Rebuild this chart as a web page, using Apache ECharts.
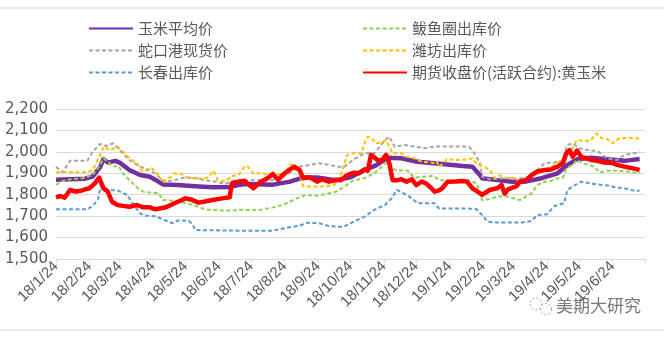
<!DOCTYPE html>
<html><head><meta charset="utf-8">
<script src="https://cdn.jsdelivr.net/npm/echarts@6/dist/echarts.min.js"></script>
<style>html,body{margin:0;padding:0;background:#fff}#c{width:664px;height:339px}</style>
</head><body><div id="c"></div>
<script>
const seriesNames = ['玉米平均价','鲅鱼圈出库价','蛇口港现货价','潍坊出库价','长春出库价','期货收盘价(活跃合约):黄玉米'];
const yTicks = [1500,1600,1700,1800,1900,2000,2100,2200];
const axisStart = '2018-01-24', axisEnd = '2019-07-24';
const tickLabelDates = ['2018-01-24','2018-02-24','2018-03-24','2018-04-24','2018-05-24','2018-06-24','2018-07-24','2018-08-24','2018-09-24','2018-10-24','2018-11-24','2018-12-24','2019-01-24','2019-02-24','2019-03-24','2019-04-24','2019-05-24','2019-06-24'];
const tickMarkDates = tickLabelDates.concat(['2019-07-24']);

const avgPrice = [['2018-01-24',1870],['2018-02-06',1872],['2018-02-20',1875],['2018-02-27',1885],['2018-03-06',1930],['2018-03-09',1966],['2018-03-13',1950],['2018-03-20',1958],['2018-03-24',1950],['2018-04-02',1915],['2018-04-12',1892],['2018-04-21',1884],['2018-04-26',1870],['2018-05-03',1848],['2018-05-17',1845],['2018-06-02',1840],['2018-06-18',1835],['2018-07-04',1836],['2018-07-12',1845],['2018-07-20',1850],['2018-08-13',1847],['2018-08-28',1860],['2018-09-10',1880],['2018-09-23',1880],['2018-10-04',1872],['2018-10-11',1868],['2018-10-24',1881],['2018-11-06',1915],['2018-11-17',1938],['2018-11-27',1972],['2018-12-10',1970],['2018-12-25',1954],['2019-01-10',1947],['2019-01-24',1940],['2019-02-05',1934],['2019-02-14',1931],['2019-02-21',1892],['2019-02-23',1877],['2019-03-09',1868],['2019-03-23',1860],['2019-04-03',1860],['2019-04-19',1877],['2019-05-04',1900],['2019-05-13',1939],['2019-05-22',1965],['2019-06-04',1973],['2019-06-19',1965],['2019-07-05',1958],['2019-07-19',1967]];

const bayuquan = [['2018-01-24',1845],['2018-01-28',1860],['2018-02-06',1872],['2018-02-18',1877],['2018-02-27',1892],['2018-03-06',1939],['2018-03-09',1970],['2018-03-13',1954],['2018-03-18',1931],['2018-03-23',1935],['2018-03-27',1900],['2018-04-02',1868],['2018-04-10',1830],['2018-04-15',1814],['2018-04-21',1810],['2018-04-29',1808],['2018-05-03',1775],['2018-05-17',1770],['2018-05-31',1752],['2018-06-11',1732],['2018-06-19',1729],['2018-07-06',1725],['2018-07-12',1730],['2018-07-20',1729],['2018-08-01',1729],['2018-08-13',1741],['2018-08-22',1752],['2018-09-04',1783],['2018-09-13',1799],['2018-09-23',1795],['2018-10-02',1804],['2018-10-11',1815],['2018-10-18',1837],['2018-10-27',1868],['2018-11-06',1877],['2018-11-15',1900],['2018-11-25',1945],['2018-11-29',1950],['2018-12-04',1915],['2018-12-16',1912],['2018-12-22',1880],['2018-12-29',1884],['2019-01-07',1887],['2019-01-10',1885],['2019-01-14',1868],['2019-01-22',1865],['2019-02-05',1868],['2019-02-11',1868],['2019-02-18',1853],['2019-02-23',1775],['2019-03-02',1780],['2019-03-09',1791],['2019-03-18',1792],['2019-03-23',1785],['2019-03-30',1775],['2019-04-05',1792],['2019-04-10',1807],['2019-04-15',1845],['2019-04-22',1861],['2019-04-28',1865],['2019-05-04',1877],['2019-05-09',1880],['2019-05-12',1923],['2019-05-18',1939],['2019-05-22',1962],['2019-05-27',1947],['2019-06-07',1931],['2019-06-12',1903],['2019-06-18',1912],['2019-06-28',1912],['2019-07-08',1908],['2019-07-17',1900],['2019-07-19',1903]];

const shekou = [['2018-01-24',1930],['2018-01-30',1905],['2018-02-06',1958],['2018-02-22',1958],['2018-02-27',2001],['2018-03-06',2037],['2018-03-12',2027],['2018-03-18',2040],['2018-03-24',2008],['2018-04-02',1962],['2018-04-12',1931],['2018-04-21',1915],['2018-04-26',1897],['2018-05-05',1861],['2018-05-14',1868],['2018-05-24',1881],['2018-06-02',1878],['2018-06-11',1868],['2018-06-21',1861],['2018-06-30',1850],['2018-07-09',1868],['2018-07-18',1865],['2018-07-26',1868],['2018-08-08',1868],['2018-08-19',1872],['2018-08-28',1900],['2018-09-07',1931],['2018-09-16',1939],['2018-09-25',1947],['2018-10-04',1940],['2018-10-13',1930],['2018-10-18',1930],['2018-10-27',1965],['2018-11-06',1993],['2018-11-15',1993],['2018-11-25',2055],['2018-11-29',2071],['2018-12-04',2024],['2018-12-13',2032],['2018-12-22',2025],['2019-01-01',2017],['2019-01-10',2025],['2019-01-24',2025],['2019-02-05',2025],['2019-02-11',2023],['2019-02-16',1993],['2019-02-21',1947],['2019-02-23',1884],['2019-03-02',1872],['2019-03-09',1875],['2019-03-18',1877],['2019-03-27',1875],['2019-04-05',1880],['2019-04-12',1900],['2019-04-22',1947],['2019-05-01',1950],['2019-05-08',1958],['2019-05-13',2032],['2019-05-18',2040],['2019-05-24',2017],['2019-06-01',2008],['2019-06-10',2003],['2019-06-19',1970],['2019-06-28',1962],['2019-07-05',1986],['2019-07-14',1993],['2019-07-19',2000]];

const weifang = [['2018-01-24',1903],['2018-01-25',1900],['2018-01-30',1908],['2018-02-06',1905],['2018-02-22',1905],['2018-02-27',1915],['2018-03-06',1986],['2018-03-09',2024],['2018-03-15',2008],['2018-03-22',2024],['2018-03-27',2001],['2018-04-02',1970],['2018-04-09',1947],['2018-04-14',1908],['2018-04-19',1915],['2018-04-23',1923],['2018-04-29',1892],['2018-05-03',1856],['2018-05-08',1875],['2018-05-14',1900],['2018-05-21',1895],['2018-05-27',1877],['2018-06-05',1875],['2018-06-14',1880],['2018-06-19',1912],['2018-06-23',1868],['2018-06-30',1862],['2018-07-06',1887],['2018-07-12',1892],['2018-07-18',1931],['2018-07-20',1935],['2018-07-26',1900],['2018-08-02',1900],['2018-08-08',1897],['2018-08-19',1895],['2018-08-26',1900],['2018-08-28',1939],['2018-08-31',1942],['2018-09-04',1930],['2018-09-07',1892],['2018-09-10',1840],['2018-09-16',1838],['2018-09-23',1838],['2018-10-02',1840],['2018-10-09',1845],['2018-10-15',1892],['2018-10-21',1986],['2018-10-27',1993],['2018-11-03',1993],['2018-11-06',2040],['2018-11-09',2071],['2018-11-12',2066],['2018-11-17',2040],['2018-11-22',2045],['2018-11-26',2055],['2018-11-29',2024],['2018-12-02',1993],['2018-12-10',1993],['2018-12-15',1977],['2018-12-22',1970],['2018-12-29',1954],['2019-01-07',1950],['2019-01-10',1947],['2019-01-12',1955],['2019-01-14',1931],['2019-01-19',1950],['2019-01-21',1965],['2019-01-30',1962],['2019-02-09',1965],['2019-02-14',1970],['2019-02-19',1939],['2019-02-23',1935],['2019-03-02',1915],['2019-03-07',1877],['2019-03-11',1890],['2019-03-18',1877],['2019-03-23',1880],['2019-03-30',1861],['2019-04-05',1880],['2019-04-12',1892],['2019-04-22',1915],['2019-05-04',1947],['2019-05-10',1977],['2019-05-17',2012],['2019-05-22',2055],['2019-05-29',2050],['2019-06-04',2055],['2019-06-09',2086],['2019-06-14',2063],['2019-06-19',2060],['2019-06-24',2040],['2019-06-30',2063],['2019-07-08',2065],['2019-07-17',2063],['2019-07-19',2052]];

const changchun = [['2018-01-24',1732],['2018-02-22',1732],['2018-02-27',1748],['2018-03-04',1778],['2018-03-06',1830],['2018-03-09',1845],['2018-03-13',1822],['2018-03-22',1820],['2018-03-31',1799],['2018-04-05',1760],['2018-04-12',1713],['2018-04-17',1702],['2018-04-26',1700],['2018-05-03',1685],['2018-05-12',1667],['2018-05-17',1680],['2018-05-27',1678],['2018-05-31',1660],['2018-06-02',1635],['2018-07-14',1632],['2018-07-26',1632],['2018-08-13',1632],['2018-08-28',1648],['2018-09-07',1655],['2018-09-13',1669],['2018-09-25',1667],['2018-10-04',1654],['2018-10-13',1651],['2018-10-18',1651],['2018-10-27',1674],['2018-11-06',1698],['2018-11-15',1729],['2018-11-25',1752],['2018-12-01',1783],['2018-12-06',1822],['2018-12-10',1814],['2018-12-20',1783],['2018-12-25',1760],['2019-01-10',1760],['2019-01-14',1736],['2019-02-09',1736],['2019-02-18',1732],['2019-02-23',1705],['2019-02-28',1674],['2019-03-09',1670],['2019-04-01',1670],['2019-04-10',1678],['2019-04-15',1705],['2019-04-24',1708],['2019-05-01',1747],['2019-05-10',1760],['2019-05-13',1822],['2019-05-20',1845],['2019-05-26',1861],['2019-06-04',1852],['2019-06-14',1845],['2019-06-19',1843],['2019-06-26',1835],['2019-07-05',1830],['2019-07-14',1819],['2019-07-19',1819]];

const futures = [['2018-01-24',1788],['2018-01-28',1794],['2018-02-01',1786],['2018-02-06',1822],['2018-02-11',1815],['2018-02-15',1817],['2018-02-20',1825],['2018-02-24',1830],['2018-03-01',1853],['2018-03-05',1880],['2018-03-09',1830],['2018-03-13',1814],['2018-03-17',1767],['2018-03-22',1752],['2018-03-27',1748],['2018-04-02',1744],['2018-04-09',1752],['2018-04-15',1741],['2018-04-21',1741],['2018-04-26',1732],['2018-05-05',1740],['2018-05-14',1760],['2018-05-24',1783],['2018-05-29',1778],['2018-06-05',1763],['2018-06-11',1768],['2018-06-18',1775],['2018-06-27',1783],['2018-07-04',1788],['2018-07-06',1853],['2018-07-12',1861],['2018-07-18',1865],['2018-07-20',1855],['2018-07-26',1830],['2018-08-02',1861],['2018-08-08',1877],['2018-08-13',1897],['2018-08-18',1868],['2018-08-22',1892],['2018-08-28',1915],['2018-09-02',1931],['2018-09-07',1915],['2018-09-10',1877],['2018-09-16',1882],['2018-09-23',1861],['2018-09-28',1872],['2018-10-04',1861],['2018-10-11',1870],['2018-10-15',1868],['2018-10-21',1892],['2018-10-27',1903],['2018-11-01',1900],['2018-11-06',1918],['2018-11-09',1912],['2018-11-12',1986],['2018-11-15',1975],['2018-11-18',1962],['2018-11-22',1960],['2018-11-26',1986],['2018-11-29',1947],['2018-12-02',1868],['2018-12-07',1868],['2018-12-10',1872],['2018-12-15',1861],['2018-12-20',1872],['2018-12-24',1845],['2018-12-29',1861],['2019-01-02',1853],['2019-01-07',1830],['2019-01-10',1814],['2019-01-14',1820],['2019-01-17',1830],['2019-01-22',1861],['2019-01-30',1862],['2019-02-05',1864],['2019-02-09',1861],['2019-02-14',1830],['2019-02-21',1807],['2019-02-23',1799],['2019-03-02',1822],['2019-03-09',1830],['2019-03-13',1845],['2019-03-16',1805],['2019-03-19',1825],['2019-03-27',1840],['2019-03-30',1861],['2019-04-05',1868],['2019-04-10',1892],['2019-04-15',1908],['2019-04-22',1915],['2019-04-28',1918],['2019-05-04',1931],['2019-05-09',1947],['2019-05-12',1993],['2019-05-15',2008],['2019-05-18',1977],['2019-05-22',2006],['2019-05-26',1975],['2019-05-31',1970],['2019-06-04',1962],['2019-06-10',1958],['2019-06-16',1950],['2019-06-24',1948],['2019-06-28',1939],['2019-07-05',1931],['2019-07-11',1925],['2019-07-17',1918],['2019-07-19',1915]];

function ts(s){const p=s.split('-');return Date.UTC(+p[0],+p[1]-1,+p[2]);}
function conv(arr){return arr.map(d=>[ts(d[0]),d[1]]);}

const colors = ['#7030A0','#92D050','#A5A5A5','#FFC000','#5B9BD5','#FF0000'];
const dataSets = [avgPrice,bayuquan,shekou,weifang,changchun,futures];
const solid = [true,false,false,false,false,true];
const widths = [4.5,2,2,2,2,4.5];

const series = seriesNames.map((n,i)=>({
  name:n, type:'line', data:conv(dataSets[i]), symbol:'none', z: i===5?10:(i===0?2:3),
  lineStyle:{color:colors[i], width:widths[i], type: solid[i]?'solid':[4,2.5], cap:'butt', join:'round'},
  itemStyle:{color:colors[i]}, animation:false
}));

const legendText = {color:'#595959', fontSize:15, fontFamily:'"Noto Sans CJK SC", sans-serif', lineHeight:15};
const legendCommon = {top:21, orient:'vertical', itemWidth:44, itemHeight:14, itemGap:7, textStyle:legendText,
  itemStyle:{opacity:0, borderWidth:0}, padding:0};
const chart = echarts.init(document.getElementById('c'), null, {renderer:'canvas'});
chart.setOption({
  animation:false,
  color:colors,
  graphic:[
    {type:'rect', shape:{x:-1,y:8,width:666,height:322}, style:{fill:'none', stroke:'#D9D9D9', lineWidth:1}, silent:true},
    {type:'text', left:556, top:297, style:{text:'美期大研究', fill:'#7a7a7a', font:'17px "Noto Sans CJK SC", sans-serif'}},
    {type:'circle', shape:{cx:536, cy:304, r:6}, style:{fill:'none', stroke:'#9a9a9a', lineWidth:1, lineDash:[2,2]}},
    {type:'circle', shape:{cx:546, cy:309, r:5.5}, style:{fill:'#fff', stroke:'#9a9a9a', lineWidth:1, lineDash:[2,2]}}
  ],
  legend:[
    Object.assign({left:88, data:[seriesNames[0],seriesNames[2],seriesNames[4]]}, legendCommon),
    Object.assign({left:362, data:[seriesNames[1],seriesNames[3],seriesNames[5]]}, legendCommon)
  ],
  grid:{left:56, right:19, top:109, bottom:80, containLabel:false},
  xAxis:{
    type:'value', min:ts(axisStart), max:ts(axisEnd),
    axisLine:{lineStyle:{color:'#D9D9D9', width:1}},
    axisTick:{show:true, length:4, lineStyle:{color:'#D9D9D9'}, customValues:tickMarkDates.map(ts)},
    axisLabel:{customValues:tickLabelDates.map(ts), rotate:45, margin:5, color:'#595959', fontSize:15,
      fontFamily:'"Liberation Sans", sans-serif',
      formatter:function(v){const d=new Date(v);return String(d.getUTCFullYear()).slice(2)+'/'+(d.getUTCMonth()+1)+'/'+d.getUTCDate();}},
    splitLine:{show:false}
  },
  yAxis:{
    type:'value', min:yTicks[0], max:yTicks[yTicks.length-1], interval:100,
    axisLine:{show:false}, axisTick:{show:false},
    axisLabel:{color:'#595959', fontSize:15, fontFamily:'"DejaVu Sans", sans-serif', margin:8,
      formatter:function(v){return v.toLocaleString('en-US');}},
    splitLine:{lineStyle:{color:'#D9D9D9', width:1}}
  },
  series:series
});
</script></body></html>
